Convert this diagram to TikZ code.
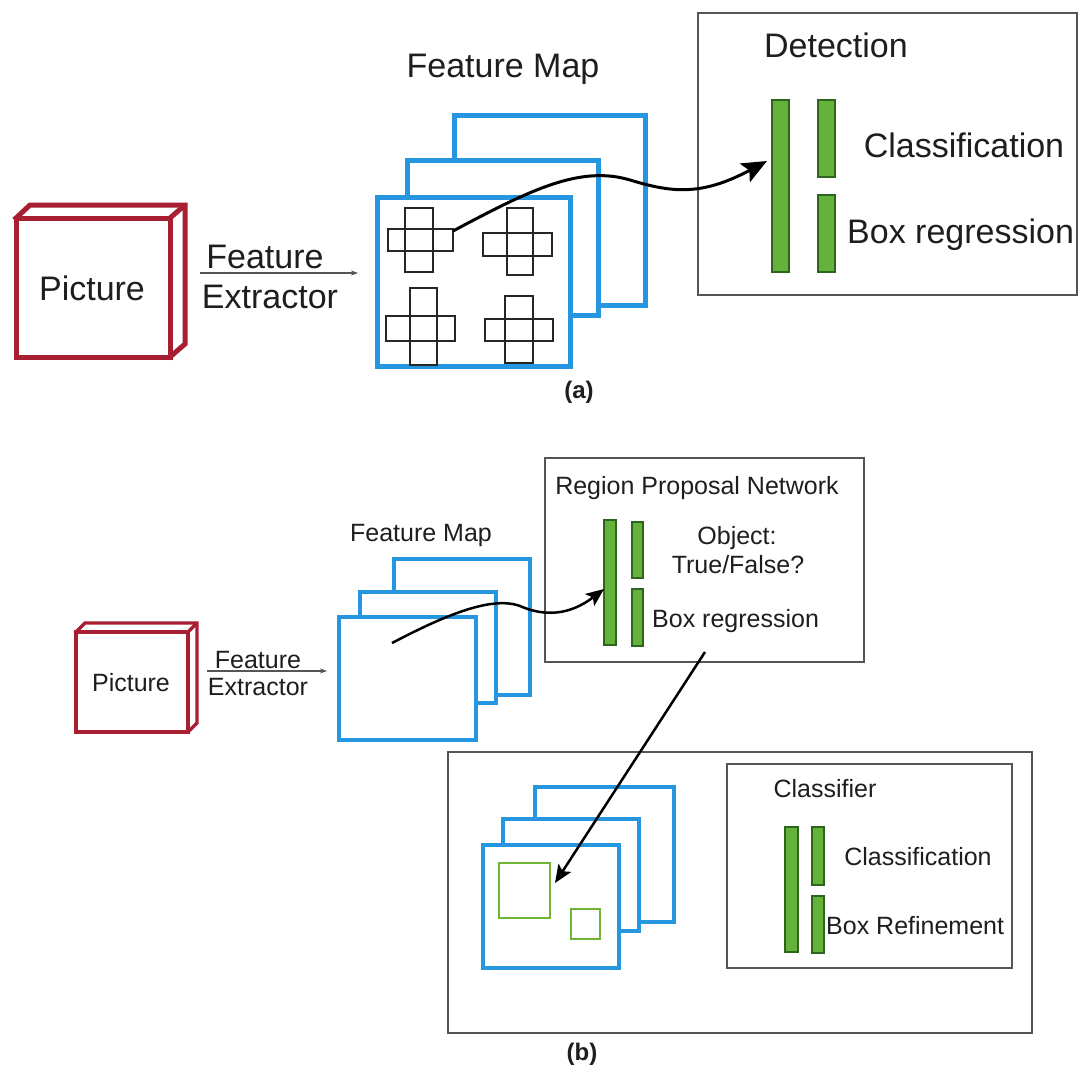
\documentclass[tikz,border=0pt]{standalone}
\usepackage{fontspec}
\setmainfont{Liberation Sans}
\usetikzlibrary{arrows.meta}
\definecolor{fmblue}{RGB}{38,150,225}
\definecolor{picred}{RGB}{168,30,50}
\definecolor{barfill}{RGB}{100,178,58}
\definecolor{baredge}{RGB}{45,100,30}
\definecolor{boxgray}{RGB}{85,85,85}
\definecolor{txt}{RGB}{30,30,30}
\definecolor{roigreen}{RGB}{112,182,52}
\begin{document}
\begin{tikzpicture}[x=1pt,y=-1pt,
 fma/.style={draw=fmblue, line width=5pt, fill=white},
 fmb/.style={draw=fmblue, line width=3.8pt, fill=white},
 cubea/.style={draw=picred, line width=5pt, fill=white, line join=miter},
 cubeb/.style={draw=picred, line width=3.4pt, fill=white, line join=miter},
 gbar/.style={draw=baredge, line width=1.3pt, fill=barfill},
 panel/.style={draw=boxgray, line width=2pt},
 crossbar/.style={draw=black!85, line width=1.8pt},
 roi/.style={draw=roigreen, line width=2.5pt},
 ta/.style={font=\fontsize{34}{40}\selectfont, text=txt, inner sep=0pt, anchor=base},
 tb/.style={font=\fontsize{25}{30}\selectfont, text=txt, inner sep=0pt, anchor=base},
 tlab/.style={font=\fontsize{24}{28}\selectfont\bfseries, text=txt, inner sep=0pt, anchor=base},
 thinarrow/.style={draw=boxgray, line width=1.2pt, -{Stealth[length=7pt,width=5pt]}},
 bigarrow/.style={line width=3pt, -{Stealth[length=25pt,width=21pt,inset=5pt]}},
 midarrow/.style={line width=2.5pt, -{Stealth[length=18pt,width=15pt,inset=4pt]}},
]
\useasboundingbox (0,0) rectangle (1080,1069);
\fill[white] (0,0) rectangle (1080,1069);

% ===================== (a) =====================
% picture cube
\draw[cubea] (16,218) -- (30,205) -- (185,205) -- (185,344) -- (170,357) -- cycle;
\draw[cubea] (16,218) rectangle (170,357);
\draw[cubea] (170,218) -- (185,205);
\node[ta] (picA) at (92,300) {Picture};

% feature extractor arrow
\coordinate (feA0) at (200,273);
\coordinate (feA1) at (358,273);
\draw[thinarrow] (feA0) -- (feA1);
\node[ta] (featA) at (265,268) {Feature};
\node[ta] (extrA) at (270,308) {Extractor};

% feature maps
\node[ta] (fmapA) at (503,77) {Feature Map};
\draw[fma] (454,115) rectangle (645,305);
\draw[fma] (407,160) rectangle (598,315);
\draw[fma] (377,197) rectangle (570,366);

% crosses
\draw[crossbar] (405,208) rectangle (433,272);
\draw[crossbar] (388,229) rectangle (453,251);
\draw[crossbar] (507,208) rectangle (533,275);
\draw[crossbar] (483,233) rectangle (552,256);
\draw[crossbar] (410,288) rectangle (437,365);
\draw[crossbar] (386,316) rectangle (455,341);
\draw[crossbar] (505,296) rectangle (533,363);
\draw[crossbar] (485,319) rectangle (553,341);

% detection panel
\draw[panel] (698,13) rectangle (1077,295);
\node[ta] (detA) at (836,57) {Detection};
\draw[gbar] (772,100) rectangle (789,272);
\draw[gbar] (818,100) rectangle (835,177);
\draw[gbar] (818,195) rectangle (835,272);
\node[ta] (clsA) at (964,157) {Classification};
\node[ta, anchor=base west] (boxA) at (847,243) {Box regression};

% curve arrow
\coordinate (cA0) at (453,231);
\coordinate (cA1) at (767,161);
\draw[bigarrow] (cA0) .. controls (530,190) and (580,165) .. (630,180) .. controls (670,192) and (700,197) .. (cA1);

\node[tlab] (labA) at (579,398) {(a)};

% ===================== (b) =====================
% picture cube
\draw[cubeb] (76,632) -- (85,623) -- (197,623) -- (197,723) -- (188,732) -- cycle;
\draw[cubeb] (76,632) rectangle (188,732);
\draw[cubeb] (188,632) -- (197,623);
\node[tb] (picB) at (131,691) {Picture};

\coordinate (feB0) at (207,671);
\coordinate (feB1) at (327,671);
\draw[thinarrow] (feB0) -- (feB1);
\node[tb] (featB) at (258,668) {Feature};
\node[tb] (extrB) at (258,695) {Extractor};

% feature maps
\node[tb] (fmapB) at (421,541) {Feature Map};
\draw[fmb] (394,559) rectangle (530,695);
\draw[fmb] (360,592) rectangle (496,703);
\draw[fmb] (339,617) rectangle (476,740);

% RPN panel
\draw[panel] (545,458) rectangle (864,662);
\node[tb] (rpn) at (697,494) {Region Proposal Network};
\draw[gbar] (604,520) rectangle (616,645);
\draw[gbar] (632,522) rectangle (643,578);
\draw[gbar] (632,589) rectangle (643,646);
\node[tb] (objB) at (737,544) {Object:};
\node[tb] (tfB) at (738,573) {True/False?};
\node[tb, anchor=base west] (boxB) at (652,627) {Box regression};

% curve arrow (b)
\coordinate (cB0) at (392,643);
\coordinate (cB1) at (604,589);
\draw[midarrow] (cB0) .. controls (440,618) and (490,595) .. (520,606) .. controls (545,617) and (570,615) .. (cB1);

% lower panel
\draw[panel] (448,752) rectangle (1032,1033);
\draw[fmb] (535,787) rectangle (674,922);
\draw[fmb] (503,819) rectangle (639,931);
\draw[fmb] (483,845) rectangle (619,968);
\draw[roi] (499,863) rectangle (550,918);
\draw[roi] (571,909) rectangle (600,939);

% straight arrow
\coordinate (sB0) at (705,652);
\coordinate (sB1) at (555,883);
\draw[midarrow] (sB0) -- (sB1);

% classifier panel
\draw[panel] (727,764) rectangle (1012,968);
\node[tb] (clfr) at (825,797) {Classifier};
\draw[gbar] (785,827) rectangle (798,952);
\draw[gbar] (812,827) rectangle (824,885);
\draw[gbar] (812,896) rectangle (824,953);
\node[tb] (clsB) at (918,865) {Classification};
\node[tb, anchor=base west] (refB) at (826,934) {Box Refinement};

\node[tlab] (labB) at (582,1060) {(b)};
\end{tikzpicture}
\end{document}
